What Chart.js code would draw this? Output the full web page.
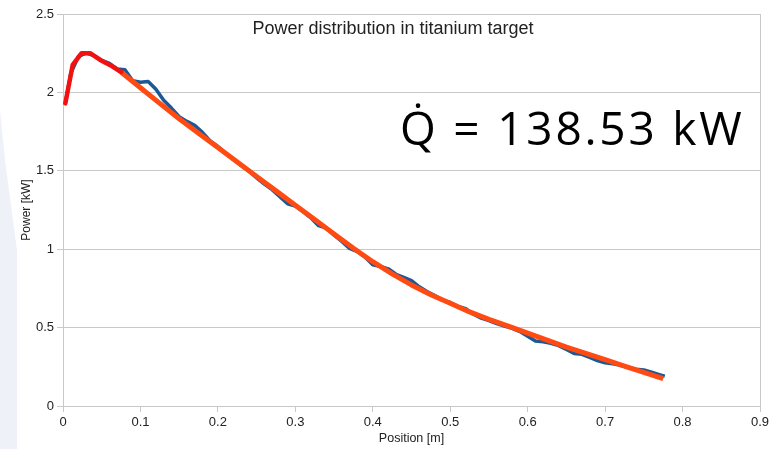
<!DOCTYPE html>
<html lang="en">
<head>
    <meta charset="UTF-8">
    <title>Power distribution in titanium target</title>
    <script src="https://cdn.jsdelivr.net/npm/chart.js"></script>
    <style>
        body {
            margin: 0;
            background: #ffffff;
        }
        #wrap {
            position: relative;
            width: 773px;
            height: 449px;
            overflow: hidden;
        }
        /* chart title sits inside the plot area */
        #title {
            position: absolute;
            left: 193px;
            top: 19px;
            width: 400px;
            text-align: center;
            font: 18px/18px "Liberation Sans", Arial, sans-serif;
            color: #222;
        }
        /* total power annotation */
        #qdot {
            position: absolute;
            left: 400px;
            top: 102px;
            font: 46px/50px "Open Sans", "Noto Sans", sans-serif;
            letter-spacing: 2.8px;
            color: #000;
            white-space: nowrap;
        }
    </style>
</head>
<body>
    <div id="wrap">
        <canvas id="powerChart" width="773" height="449"></canvas>
        <div id="title">Power distribution in titanium target</div>
        <div id="qdot">Q&#775; = 138.53 kW</div>
    </div>

    <script>
        // measured power along the target
        var posMeasured = [0.003, 0.01, 0.02, 0.03, 0.04, 0.05, 0.06, 0.07, 0.08, 0.09,
            0.1, 0.11, 0.12, 0.13, 0.14, 0.15, 0.16, 0.17, 0.18, 0.19,
            0.2, 0.21, 0.22, 0.23, 0.24, 0.25, 0.26, 0.27, 0.28, 0.29,
            0.3, 0.31, 0.32, 0.33, 0.34, 0.35, 0.36, 0.37, 0.38, 0.39,
            0.4, 0.41, 0.42, 0.43, 0.44, 0.45, 0.46, 0.47, 0.48, 0.49,
            0.5, 0.51, 0.52, 0.53, 0.54, 0.55, 0.56, 0.57, 0.58, 0.59,
            0.6, 0.61, 0.62, 0.63, 0.64, 0.65, 0.66, 0.67, 0.68, 0.69,
            0.7, 0.71, 0.72, 0.73, 0.74, 0.75, 0.76, 0.77, 0.777];
        var powerMeasured = [1.93, 2.12, 2.23, 2.25, 2.235, 2.205, 2.185, 2.15, 2.145, 2.075,
            2.065, 2.07, 2.02, 1.95, 1.9, 1.845, 1.815, 1.79, 1.745, 1.69,
            1.655, 1.61, 1.575, 1.535, 1.5, 1.455, 1.415, 1.38, 1.335, 1.29,
            1.275, 1.24, 1.2, 1.15, 1.135, 1.09, 1.05, 1.005, 0.985, 0.95,
            0.9, 0.89, 0.875, 0.84, 0.82, 0.8, 0.76, 0.73, 0.705, 0.675,
            0.66, 0.635, 0.62, 0.585, 0.56, 0.545, 0.525, 0.51, 0.495, 0.475,
            0.445, 0.415, 0.41, 0.4, 0.385, 0.36, 0.335, 0.33, 0.31, 0.29,
            0.275, 0.27, 0.26, 0.245, 0.235, 0.23, 0.215, 0.2, 0.19];

        // fit of the entrance peak
        var posPeak = [0.003, 0.0125, 0.024, 0.035, 0.048, 0.063, 0.075];
        var powerPeak = [1.93, 2.175, 2.25, 2.25, 2.207, 2.168, 2.13];

        // fit of the decay
        var posFit = [0.075, 0.1, 0.125, 0.15, 0.175, 0.2, 0.225, 0.25, 0.275, 0.3,
            0.325, 0.35, 0.375, 0.4, 0.425, 0.45, 0.475, 0.5, 0.525, 0.55,
            0.575, 0.6, 0.625, 0.65, 0.675, 0.7, 0.725, 0.75, 0.775];
        var powerFit = [2.13, 2.03, 1.93, 1.832, 1.74, 1.648, 1.556, 1.464, 1.372, 1.28,
            1.189, 1.097, 1.006, 0.92, 0.843, 0.772, 0.71, 0.655, 0.6, 0.552,
            0.51, 0.465, 0.42, 0.375, 0.335, 0.295, 0.255, 0.215, 0.175];

        var xTickLabels = ['0', '0.1', '0.2', '0.3', '0.4', '0.5', '0.6', '0.7', '0.8', '0.9'];
        var yTickLabels = ['0', '0.5', '1', '1.5', '2', '2.5'];

        function toPoints(xs, ys) {
            return xs.map(function (x, i) { return { x: x, y: ys[i] }; });
        }

        // light slide background on the left edge
        var slideBg = {
            id: 'slideBg',
            beforeDraw: function (chart) {
                var c = chart.ctx;
                c.save();
                c.fillStyle = '#ffffff';
                c.fillRect(0, 0, chart.width, chart.height);
                c.fillStyle = '#eef2f8';
                c.beginPath();
                c.moveTo(0, 110);
                c.lineTo(5, 160);
                c.lineTo(17, 250);
                c.lineTo(17, 449);
                c.lineTo(0, 449);
                c.closePath();
                c.fill();
                c.restore();
            }
        };

        var gridGray = '#c8c8c8';
        var tickFont = { family: 'Liberation Sans', size: 13 };

        var ctx = document.getElementById('powerChart').getContext('2d');
        new Chart(ctx, {
            type: 'scatter',
            data: {
                datasets: [{
                    label: 'Peak fit',
                    data: toPoints(posPeak, powerPeak),
                    showLine: true,
                    borderColor: '#f21111',
                    borderWidth: 4.5,
                    pointRadius: 0,
                    borderJoinStyle: 'round',
                    borderCapStyle: 'round'
                }, {
                    label: 'Fit',
                    data: toPoints(posFit, powerFit),
                    showLine: true,
                    borderColor: '#ff4a12',
                    borderWidth: 5,
                    pointRadius: 0,
                    borderJoinStyle: 'round'
                }, {
                    label: 'Power',
                    data: toPoints(posMeasured, powerMeasured),
                    showLine: true,
                    borderColor: '#1a5896',
                    borderWidth: 3.5,
                    pointRadius: 0,
                    borderJoinStyle: 'round'
                }]
            },
            options: {
                responsive: false,
                animation: false,
                layout: { padding: { top: 14, right: 13, left: 0, bottom: 0 } },
                plugins: {
                    legend: { display: false },
                    tooltip: { enabled: false }
                },
                scales: {
                    x: {
                        type: 'linear',
                        min: 0,
                        max: 0.9,
                        afterFit: function (s) { s.height = 43; },
                        ticks: {
                            stepSize: 0.1,
                            color: '#222',
                            font: tickFont,
                            padding: 3,
                            maxRotation: 0,
                            callback: function (v, i) { return xTickLabels[i]; }
                        },
                        grid: {
                            color: function (c) { return c.index === xTickLabels.length - 1 ? gridGray : 'rgba(0,0,0,0)'; },
                            tickColor: gridGray,
                            tickLength: 6
                        },
                        border: { color: gridGray },
                        title: {
                            display: true,
                            text: 'Position [m]',
                            color: '#222',
                            font: { family: 'Liberation Sans', size: 12.5 },
                            padding: { top: 0, bottom: 2.5 }
                        }
                    },
                    y: {
                        min: 0,
                        max: 2.5,
                        afterFit: function (s) { s.width = 63; },
                        ticks: {
                            stepSize: 0.5,
                            color: '#222',
                            font: tickFont,
                            padding: 3,
                            callback: function (v, i) { return yTickLabels[i]; }
                        },
                        grid: {
                            color: gridGray,
                            tickColor: gridGray,
                            tickLength: 6
                        },
                        border: { color: gridGray },
                        title: {
                            display: true,
                            text: 'Power [kW]',
                            color: '#222',
                            font: { family: 'Liberation Sans', size: 12 },
                            padding: { top: 19, bottom: 0 }
                        }
                    }
                }
            },
            plugins: [slideBg]
        });
    </script>
</body>
</html>
